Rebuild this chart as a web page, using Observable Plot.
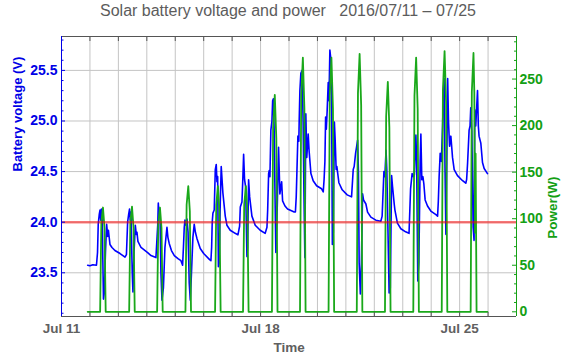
<!DOCTYPE html>
<html><head><meta charset="utf-8">
<script src="https://cdn.jsdelivr.net/npm/d3@7"></script>
<script src="https://cdn.jsdelivr.net/npm/@observablehq/plot@0.6"></script>
<style>
body{margin:0;background:#fff;font-family:"Liberation Sans",Arial,sans-serif;}
#title{width:576px;height:26px;line-height:21px;text-align:center;font-size:16px;color:#5c5c5c;white-space:pre;}
</style></head><body>
<div id="title">Solar battery voltage and power   2016/07/11 – 07/25</div>
<div id="chart"></div>
<script>
// hours since 2016-07-11 00:00, battery voltage (V)
const voltage = [
 [22.1,23.575],[24.0,23.57],[26.5,23.58],[29.5,23.575],
 [30.4,23.70],[31.0,23.98],[31.9,24.08],[32.5,24.12],[33.1,24.02],[33.7,24.13],[34.4,24.00],
 [35.4,23.24],[36.1,23.30],[37.1,23.70],[38.1,23.98],[39.0,23.86],[39.6,23.92],[40.9,23.78],[42.6,23.75],[45.1,23.72],[49.4,23.69],[53.6,23.655],
 [54.8,23.68],[55.8,24.00],[56.7,24.08],[57.4,24.13],[58.0,24.02],[58.6,24.10],[59.7,23.50],[60.3,23.31],[61.2,23.70],[62.3,23.97],[63.1,23.88],[63.7,23.90],[64.5,23.81],[67.1,23.75],[72.7,23.70],[75.5,23.67],[79.7,23.65],
 [80.4,23.80],[81.2,23.97],[81.7,24.19],[82.3,24.05],[83.1,24.12],[83.9,23.50],[84.8,23.23],[86.0,23.35],[87.3,23.75],[89.0,23.95],[89.8,23.85],[90.9,23.79],[92.8,23.72],[95.2,23.67],[98.3,23.64],[100.8,23.62],[102.2,23.575],
 [102.9,23.75],[103.6,23.95],[104.2,24.02],[105.0,23.97],[105.9,24.03],[106.8,23.90],[107.8,23.40],[108.7,23.23],[109.7,23.50],[110.9,23.85],[112.0,23.98],[113.0,23.90],[114.3,23.84],[117.1,23.74],[120.0,23.69],[125.0,23.63],[126.1,23.62],
 [126.7,23.75],[127.2,24.00],[127.8,24.09],[128.9,24.12],[129.8,24.52],[130.6,24.57],[131.2,24.40],[131.8,24.45],[132.4,23.56],[133.1,23.60],[134.0,24.20],[134.8,24.55],[136.2,24.29],[138.2,24.06],[139.6,23.97],[142.4,23.92],[146.6,23.89],[148.9,23.875],
 [150.3,23.96],[150.9,24.15],[152.3,24.20],[153.1,24.45],[153.7,24.67],[154.5,24.42],[155.4,24.35],[156.5,23.66],[157.1,23.75],[157.9,24.42],[158.8,24.25],[160.7,24.06],[163.5,23.97],[167.7,23.92],[171.9,23.89],[173.4,23.95],
 [174.0,24.12],[174.8,24.48],[175.3,24.51],[175.9,24.45],[176.7,24.91],[177.6,25.00],[178.2,25.20],[178.8,25.22],[179.5,24.90],[180.1,24.35],[180.9,23.70],[181.8,24.00],[183.2,24.74],[184.3,24.28],[185.8,24.40],[186.6,24.21],[188.6,24.16],[190.8,24.13],[196.4,24.10],[197.4,24.10],
 [198.1,24.25],[199.5,24.85],[200.3,24.80],[200.6,25.00],[201.2,25.30],[202.0,25.47],[203.1,25.50],[203.9,25.00],[204.6,24.30],[205.4,23.65],[206.2,25.07],[207.0,24.64],[208.2,24.87],[209.0,24.70],[210.5,24.48],[212.4,24.41],[215.3,24.36],[219.5,24.33],[220.9,24.30],
 [221.6,24.42],[222.3,24.60],[222.9,25.04],[223.5,24.92],[224.2,25.10],[225.1,25.38],[225.7,25.20],[226.5,25.70],[227.4,25.60],[228.0,25.10],[228.6,23.78],[229.4,23.90],[230.3,24.99],[231.0,24.80],[231.8,24.52],[232.4,24.55],[234.1,24.39],[236.9,24.32],[241.1,24.27],[244.8,24.25],
 [246.2,24.52],[247.0,24.55],[248.2,24.68],[249.1,24.75],[249.9,24.81],[250.6,24.50],[251.2,23.60],[252.2,23.29],[253.1,23.60],[254.1,24.28],[254.9,24.22],[256.9,24.18],[258.3,24.10],[261.1,24.05],[265.3,24.02],[269.5,24.01],
 [270.6,24.06],[272.1,24.50],[272.9,24.45],[273.9,24.71],[274.6,24.50],[275.4,24.00],[276.5,23.30],[277.5,23.35],[278.6,24.46],[279.4,24.35],[280.8,24.18],[281.4,24.12],[283.5,23.99],[286.4,23.935],[290.4,23.905],[293.3,23.89],
 [294.6,24.33],[295.9,24.48],[297.0,24.45],[297.8,24.47],[299.1,24.86],[299.7,24.60],[300.7,23.42],[301.6,23.60],[302.7,24.60],[303.3,24.87],[304.1,24.42],[305.0,24.45],[305.8,24.38],[306.9,24.22],[308.9,24.16],[311.7,24.11],[316.0,24.075],[317.4,24.06],
 [318.0,24.20],[318.7,24.45],[319.6,24.68],[320.6,24.60],[321.6,24.95],[322.4,25.30],[322.9,25.42],[323.7,24.50],[324.4,23.88],[325.2,24.60],[325.9,25.42],[326.6,25.00],[327.5,24.75],[328.6,24.85],[330.0,24.64],[331.4,24.52],[334.2,24.46],[338.5,24.41],[341.2,24.385],[341.9,24.42],
 [342.7,24.58],[344.0,24.91],[344.8,24.95],[345.4,25.13],[346.3,24.90],[347.4,23.95],[348.2,23.82],[348.8,25.11],[349.6,24.95],[351.1,25.30],[351.8,24.95],[352.4,24.85],[353.9,24.78],[355.3,24.59],[356.7,24.53],[359.5,24.48]
];
// hours since 2016-07-11 00:00, power (W)
const power = [
 [22.1,0],
 [32.6,0],[33.6,95],[35.0,112],[36.3,90],[37.3,0],
 [57.1,0],[58.1,96],[59.5,113],[60.8,90],[61.8,0],
 [80.7,0],[81.7,95],[83.1,112],[84.4,90],[85.4,0],
 [104.6,0],[105.6,115],[107.0,135],[108.3,108],[109.3,0],
 [129.6,0],[130.6,115],[132.0,135],[133.3,108],[134.3,0],
 [153.2,0],[154.2,115],[155.6,135],[156.9,108],[157.9,0],
 [177.6,0],[178.6,198],[180.0,233],[181.3,186],[182.3,0],
 [201.3,0],[202.3,232],[203.7,273],[205.0,218],[206.0,0],
 [225.4,0],[226.4,232],[227.8,273],[229.1,218],[230.1,0],
 [249.2,0],[250.2,235],[251.6,277],[252.9,222],[253.9,0],
 [273.0,0],[274.0,210],[275.4,247],[276.7,198],[277.7,0],
 [296.9,0],[297.9,232],[299.3,273],[300.6,218],[301.6,0],
 [320.9,0],[321.9,238],[323.3,280],[324.6,224],[325.6,0],
 [345.3,0],[346.3,236],[347.7,278],[348.4,235],[349.0,85],[349.5,170],[350.3,0],
 [359.5,0]
];
const voltTicks = [23.5, 24.0, 24.5, 25.0, 25.5];
const powerTicks = [0, 50, 100, 150, 200, 250];
const dateLabels = ["Jul 11", "Jul 18", "Jul 25"];
const dateLabelHours = [0, 168, 336];
const threshold = 24.0;

const voltDomain = [23.068, 25.835];
const powerDomain = [-5.05, 295.7];
const p2v = d3.scaleLinear().domain(powerDomain).range(voltDomain);
const dayHours = d3.range(24, 384, 24);
const voltMinor = d3.range(231, 259).map(d => d / 10).filter(v => !voltTicks.includes(v));
const powerMinor = d3.range(10, 300, 10).filter(p => p % 50 !== 0);

const blue = "#0000e6", green = "#14a014", gray = "#555555", labelGray = "#606060";
const font = "Liberation Sans, Arial, sans-serif";

const chart = Plot.plot({
  width: 576, height: 336,
  marginTop: 10, marginBottom: 46, marginLeft: 61, marginRight: 60,
  x: {domain: [0, 384]},
  y: {domain: voltDomain},
  style: {fontFamily: font, background: "white"},
  marks: [
    Plot.gridX(dayHours, {stroke: "#c4c4c4", strokeOpacity: 1}),
    Plot.gridY(voltTicks, {stroke: "#c4c4c4", strokeOpacity: 1}),
    Plot.line(voltage, {x: d => d[0], y: d => d[1], stroke: "#0000ff", strokeWidth: 1.6}),
    Plot.line(power, {x: d => d[0], y: d => p2v(d[1]), stroke: "#1aa81a", strokeWidth: 1.8}),
    Plot.ruleY([threshold], {stroke: "#ff0000", strokeOpacity: 0.5, strokeWidth: 2.5}),
    Plot.ruleY([voltDomain[0]], {stroke: gray}),
    Plot.ruleY([voltDomain[1]], {stroke: gray}),
    Plot.ruleX([0], {stroke: blue}),
    Plot.ruleX([384], {stroke: green}),
    Plot.axisX(dayHours, {anchor: "bottom", tickSize: -4, fill: "none", stroke: gray, label: null}),
    Plot.axisX(dayHours, {anchor: "top", tickSize: -4, fill: "none", stroke: gray, label: null}),
    Plot.axisX(dateLabelHours, {anchor: "bottom", tickSize: 0, tickPadding: 7, tickFormat: d => dateLabels[dateLabelHours.indexOf(d)], fill: labelGray, fontWeight: "bold", fontSize: 13.5, label: null}),
    Plot.axisY(voltTicks, {anchor: "left", tickSize: -4, fill: "none", stroke: blue, label: null}),
    Plot.axisY(voltMinor, {anchor: "left", tickSize: -2.5, fill: "none", stroke: blue, label: null}),
    Plot.axisY(voltTicks, {anchor: "left", tickSize: 0, tickPadding: 4, tickFormat: d => d.toFixed(1), fill: blue, fontWeight: "bold", fontSize: 14, label: null}),
    Plot.axisY(powerTicks.map(p2v), {anchor: "right", tickSize: -5, fill: "none", stroke: green, label: null}),
    Plot.axisY(powerMinor.map(p2v), {anchor: "right", tickSize: -3, fill: "none", stroke: green, label: null}),
    Plot.axisY(powerTicks.map(p2v), {anchor: "right", tickSize: 0, tickPadding: 3, tickFormat: v => String(Math.round(p2v.invert(v))), fill: green, fontWeight: "bold", fontSize: 14, label: null}),
    Plot.text(["Battery voltage (V)"], {frameAnchor: "left", dx: -44, dy: -5, rotate: -90, fill: blue, fontWeight: "bold", fontSize: 13}),
    Plot.text(["Power(W)"], {frameAnchor: "right", dx: 36, rotate: -90, fill: green, fontWeight: "bold", fontSize: 13.5}),
    Plot.text(["Time"], {frameAnchor: "bottom", dy: 35, fill: labelGray, fontWeight: "bold", fontSize: 13.5})
  ]
});
document.getElementById("chart").appendChild(chart);
</script>
</body></html>
